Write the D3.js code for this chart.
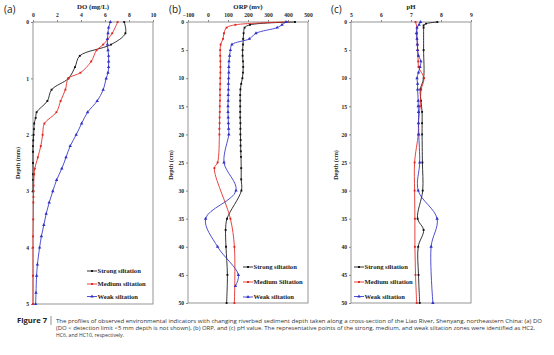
<!DOCTYPE html>
<html><head><meta charset="utf-8">
<script src="https://cdn.jsdelivr.net/npm/d3@7"></script>
<style>
html,body{margin:0;padding:0;background:#fff;}
svg{display:block;}
</style></head>
<body>
<svg id="chart" width="554" height="355"></svg>
<script>
// ---------- DATA ----------
// (a) DO (mg/L) vs depth (mm)
const doTicks = [0, 2, 4, 6, 8, 10];
const doDepthTicks = [0, 1, 2, 3, 4, 5];
const doStrongDepth = [0, 0.2, 0.4, 0.6, 0.8, 1.0, 1.2, 1.4, 1.6, 1.7, 1.8, 1.9, 2.0, 2.1, 2.2, 2.3, 2.5, 2.7, 2.8, 3.0];
const doStrong      = [7.6, 7.7, 6.5, 3.9, 3.5, 2.95, 1.55, 1.2, 0.3, 0.22, 0.1, 0.08, 0.05, 0.02, 0.0, 0.0, 0.0, 0.0, 0.0, 0.0];
const doMediumDepth = [0, 0.2, 0.4, 0.5, 0.7, 0.9, 1.0, 1.2, 1.4, 1.6, 1.8, 2.0, 2.2, 2.4, 2.6, 2.7, 2.9, 3.0, 3.1, 3.2, 3.5, 3.8, 4.0, 4.5, 5.0];
const doMedium      = [7.05, 6.6, 5.85, 5.3, 4.85, 3.95, 2.95, 2.7, 2.3, 1.95, 0.95, 0.8, 0.65, 0.4, 0.15, 0.1, 0.05, 0.05, 0.04, 0.03, 0.02, 0.0, 0.0, 0.0, 0.0];
const doWeakDepth = [0, 0.1, 0.2, 0.3, 0.4, 0.5, 0.6, 0.7, 0.8, 0.9, 1.0, 1.2, 1.4, 1.6, 1.8, 2.0, 2.2, 2.4, 2.6, 2.8, 3.0, 3.2, 3.4, 3.6, 3.8, 4.0, 4.3, 4.5, 4.8, 5.0];
const doWeak      = [6.45, 6.3, 6.25, 6.2, 6.2, 6.25, 6.3, 6.3, 6.3, 6.25, 6.1, 5.85, 5.35, 4.55, 4.05, 3.6, 3.1, 2.75, 2.4, 1.97, 1.65, 1.35, 1.1, 0.9, 0.7, 0.55, 0.37, 0.3, 0.25, 0.22];

// (b) ORP (mv) vs depth (cm)
const orpTicks = [-100, 0, 100, 200, 300, 400, 500];
const cmDepthTicks = [0, 5, 10, 15, 20, 25, 30, 35, 40, 45, 50];
const orpStrongDepth = [0, 0.5, 1, 2, 3, 4, 5, 6, 7, 8, 9, 10, 11, 12, 13, 14, 15, 16, 17, 18, 19, 20, 21, 22, 23, 24, 26, 28, 30, 35, 37, 40, 45, 50];
const orpStrong      = [435, 210, 183, 178, 176, 175, 173, 173, 175, 176, 175, 172, 166, 162, 161, 161, 161, 161, 161, 162, 162, 162, 163, 163, 164, 165, 166, 166, 167, 95, 88, 90, 97, 93];
const orpMediumDepth = [0, 0.5, 1, 2, 3, 4, 5, 6, 7, 8, 9, 10, 11, 12, 13, 14, 15, 16, 17, 18, 19, 20, 25, 26, 35, 40, 50];
const orpMedium      = [397, 137, 93, 80, 75, 63, 61, 61, 62, 62, 62, 61, 61, 60, 60, 60, 59, 59, 58, 58, 57, 57, 48, 32, 112, 132, 132];
const orpWeakDepth = [0, 0.5, 1, 2, 3, 4, 5, 6, 7, 8, 9, 10, 11, 12, 13, 14, 15, 16, 17, 18, 19, 20, 25, 30, 35, 40, 45, 47];
const orpWeak      = [390, 370, 346, 240, 207, 120, 112, 108, 105, 104, 104, 103, 102, 102, 101, 101, 100, 100, 101, 102, 103, 104, 80, 140, -12, 48, 152, 137];

// (c) pH vs depth (cm)
const phTicks = [5, 6, 7, 8, 9];
const phStrongDepth = [0, 0.3, 0.6, 1, 5, 10, 12, 14, 16, 18, 20, 25, 30, 35, 37, 40, 45, 50];
const phStrong      = [7.88, 7.5, 7.42, 7.42, 7.42, 7.42, 7.31, 7.33, 7.37, 7.37, 7.37, 7.38, 7.39, 7.22, 7.42, 7.24, 7.25, 7.29];
const phMediumDepth = [0, 1, 2, 3, 4, 5, 6, 7, 8, 10, 12, 15, 18, 20, 25, 30, 35, 40, 45, 50];
const phMedium      = [7.15, 7.2, 7.2, 7.2, 7.22, 7.22, 7.23, 7.24, 7.25, 7.43, 7.34, 7.3, 7.25, 7.24, 7.12, 7.12, 7.13, 7.13, 7.15, 7.19];
const phWeakDepth = [0, 0.5, 1, 2, 3, 4, 5, 6, 7, 8, 9, 10, 11, 12, 14, 15, 16, 18, 20, 25, 30, 35, 40, 50];
const phWeak      = [7.32, 7.27, 7.2, 7.18, 7.2, 7.21, 7.22, 7.25, 7.33, 7.3, 7.25, 7.2, 7.22, 7.22, 7.24, 7.24, 7.25, 7.25, 7.26, 7.29, 7.24, 7.87, 7.67, 7.73];

const seriesNames = ["Strong siltation", "Medium siltation", "Weak siltation"];
const seriesNamesB = ["Strong siltation", "Medium Siltation", "Weak siltation"];

const captionLines = [
  "The profiles of observed environmental indicators with changing riverbed sediment depth taken along a cross-section of the Liao River, Shenyang, northeastern China: (a) DO",
  "(DO < detection limit <5 mm depth is not shown), (b) ORP, and (c) pH value. The representative points of the strong, medium, and weak siltation zones were identified as HC2,",
  "HC6, and HC10, respectively."
];

// ---------- DRAWING ----------
const svg = d3.select("#chart");
const colors = ["#111111", "#e3241d", "#3030c8"];
const symbols = [d3.symbolSquare, d3.symbolSquare, d3.symbolTriangle];
const serif = "'Liberation Serif', 'Times New Roman', serif";
const sans = "'Open Sans', 'Liberation Sans', Arial, sans-serif";
const fmt = d3.format("~g");

function zip(d, v) { return d.map((dd, i) => ({d: dd, v: v[i]})); }

function panel(cfg) {
  const g = svg.append("g");
  const x = d3.scaleLinear().domain(cfg.xDomain).range([cfg.left, cfg.right]);
  const y = d3.scaleLinear().domain(cfg.yDomain).range([cfg.top, cfg.bottom]);

  // x axis on top
  const xAxis = d3.axisTop(x).tickValues(cfg.xTicks).tickFormat(fmt).tickSize(2).tickSizeOuter(0);
  const gx = g.append("g").attr("transform", `translate(0,${cfg.top})`).call(xAxis);
  gx.select(".domain").remove();
  gx.selectAll("line").attr("stroke", "#888");
  gx.selectAll("text").attr("font-family", serif).attr("font-weight", "bold")
    .attr("font-size", 5.6).attr("fill", "#222").attr("dy", "0em")
    .attr("y", -5);

  const yAxis = d3.axisLeft(y).tickValues(cfg.yTicks).tickFormat(fmt).tickSize(2).tickSizeOuter(0);
  const gy = g.append("g").attr("transform", `translate(${cfg.left},0)`).call(yAxis);
  gy.select(".domain").remove();
  gy.selectAll("line").attr("stroke", "#888");
  gy.selectAll("text").attr("font-family", serif).attr("font-weight", "bold")
    .attr("font-size", 5.6).attr("fill", "#222").attr("x", -cfg.yLabelGap);

  // frame
  g.append("rect").attr("x", cfg.left).attr("y", cfg.top)
    .attr("width", cfg.right - cfg.left).attr("height", cfg.bottom - cfg.top)
    .attr("fill", "none").attr("stroke", "#8a8a8a").attr("stroke-width", 0.9);

  // title
  g.append("text").attr("x", (cfg.left + cfg.right) / 2).attr("y", 9)
    .attr("text-anchor", "middle").attr("font-family", serif).attr("font-weight", "bold")
    .attr("font-size", 6.8).attr("fill", "#222").text(cfg.title);
  // panel letter
  g.append("text").attr("x", cfg.letterX).attr("y", 13)
    .attr("font-family", sans).attr("font-size", 10).attr("fill", "#222").text(cfg.letter);
  // y label
  g.append("text").attr("transform", `translate(${cfg.yLabelX},${cfg.yLabelY}) rotate(-90)`)
    .attr("text-anchor", "middle").attr("font-family", serif).attr("font-weight", "bold")
    .attr("font-size", 6.2).attr("fill", "#222").text(cfg.yLabel);

  const line = d3.line().x(p => x(p.v)).y(p => y(p.d)).curve(d3.curveCatmullRom.alpha(0.5));
  cfg.series.forEach((s, i) => {
    const pts = zip(s.depth, s.vals);
    g.append("path").datum(pts).attr("d", line).attr("fill", "none")
      .attr("stroke", colors[i]).attr("stroke-width", 0.85);
    g.selectAll(null).data(pts).enter().append("path")
      .attr("d", d3.symbol().type(symbols[i]).size(i === 2 ? 5 : 3.5))
      .attr("transform", p => `translate(${x(p.v)},${y(p.d)})`)
      .attr("fill", colors[i]);
  });

  // legend
  cfg.legendNames.forEach((name, i) => {
    const ly = cfg.legendY[i];
    g.append("line").attr("x1", cfg.legendX).attr("x2", cfg.legendX + 10)
      .attr("y1", ly).attr("y2", ly).attr("stroke", colors[i]).attr("stroke-width", 0.85);
    g.append("path").attr("d", d3.symbol().type(symbols[i]).size(i === 2 ? 5 : 3.5))
      .attr("transform", `translate(${cfg.legendX + 5},${ly})`).attr("fill", colors[i]);
    g.append("text").attr("x", cfg.legendX + 10.5).attr("y", ly + 2.1)
      .attr("font-family", serif).attr("font-weight", "bold").attr("font-size", 6.6)
      .attr("fill", "#222").text(name);
  });
}

panel({
  left: 33, right: 153, top: 22, bottom: 304,
  xDomain: [0, 10], yDomain: [0, 5], xTicks: doTicks, yTicks: doDepthTicks,
  title: "DO (mg/L)", letter: "(a)", letterX: 4, yLabel: "Depth (mm)", yLabelX: 20, yLabelY: 163,
  yLabelGap: 4,
  series: [
    {depth: doStrongDepth, vals: doStrong},
    {depth: doMediumDepth, vals: doMedium},
    {depth: doWeakDepth, vals: doWeak}
  ],
  legendNames: seriesNames, legendX: 87, legendY: [271, 284, 296.5]
});

panel({
  left: 188, right: 308, top: 22, bottom: 303,
  xDomain: [-100, 500], yDomain: [0, 50], xTicks: orpTicks, yTicks: cmDepthTicks,
  title: "ORP (mv)", letter: "(b)", letterX: 169, yLabel: "Depth (cm)", yLabelX: 173, yLabelY: 165,
  yLabelGap: 4,
  series: [
    {depth: orpStrongDepth, vals: orpStrong},
    {depth: orpMediumDepth, vals: orpMedium},
    {depth: orpWeakDepth, vals: orpWeak}
  ],
  legendNames: seriesNamesB, legendX: 243, legendY: [267, 282, 297]
});

panel({
  left: 351, right: 471, top: 22, bottom: 303,
  xDomain: [5, 9], yDomain: [0, 50], xTicks: phTicks, yTicks: cmDepthTicks,
  title: "pH", letter: "(c)", letterX: 331, yLabel: "Depth (cm)", yLabelX: 338, yLabelY: 165,
  yLabelGap: 4,
  series: [
    {depth: phStrongDepth, vals: phStrong},
    {depth: phMediumDepth, vals: phMedium},
    {depth: phWeakDepth, vals: phWeak}
  ],
  legendNames: seriesNames, legendX: 354, legendY: [267, 282, 296.5]
});

// caption
const cap = svg.append("g");
cap.append("text").attr("x", 17).attr("y", 323).attr("font-family", sans)
  .attr("font-weight", "bold").attr("font-size", 6.4).attr("fill", "#222")
  .attr("textLength", 30).attr("lengthAdjust", "spacingAndGlyphs").text("Figure 7");
cap.append("line").attr("x1", 51).attr("x2", 51).attr("y1", 316).attr("y2", 325)
  .attr("stroke", "#666").attr("stroke-width", 0.7);
const capLens = [486, 479, 68];
captionLines.forEach((t, i) => {
  cap.append("text").attr("x", 56).attr("y", 323 + i * 7.1).attr("font-family", sans)
    .attr("font-size", 6).attr("fill", "#333")
    .attr("textLength", capLens[i]).attr("lengthAdjust", "spacingAndGlyphs").text(t);
});
</script>
</body></html>
